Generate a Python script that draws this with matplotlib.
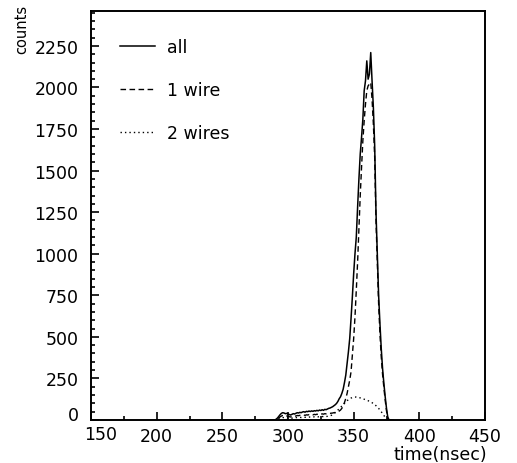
import numpy as np
import matplotlib
matplotlib.use("Agg")
import matplotlib.pyplot as plt
from matplotlib.ticker import MultipleLocator, FuncFormatter

# time axis (ns), 1 ns bins
time_ns = list(range(286, 381))

counts_all = [
    0, 0, 0, 0, 0, 5, 12, 22, 32, 40,            # 286-295
    44, 42, 38, 40, 36, 33, 30, 34, 38, 36,      # 296-305
    40, 44, 42, 46, 44, 48, 50, 47, 52, 50,      # 306-315
    54, 51, 55, 52, 56, 54, 58, 55, 60, 57,      # 316-325
    62, 58, 64, 62, 66, 70, 72, 76, 80, 86,      # 326-335
    92, 100, 112, 128, 140, 160, 185, 225, 270, 340,   # 336-345
    410, 490, 610, 740, 880, 1000, 1100, 1280, 1450, 1600,  # 346-355
    1700, 1810, 1980, 2040, 2160, 2050, 2080, 2210, 2040, 1880,  # 356-365
    1650, 1250, 1000, 750, 580, 430, 310, 220, 140, 70,  # 366-375
    15, 0, 0, 0, 0,                              # 376-380
]

counts_1wire = [
    0, 0, 0, 0, 0, 3, 7, 13, 19, 24,
    27, 26, 23, 24, 22, 20, 18, 21, 23, 22,
    24, 27, 26, 28, 27, 29, 30, 28, 31, 30,
    32, 31, 33, 31, 34, 32, 35, 33, 36, 34,
    37, 35, 38, 37, 39, 40, 40, 41, 42, 44,
    45, 47, 50, 54, 60, 70, 85, 105, 130, 160,
    200, 240, 290, 390, 490, 620, 780, 950, 1150, 1350,
    1520, 1680, 1800, 1900, 1980, 2010, 2020, 2030, 1930, 1780,
    1580, 1200, 950, 700, 520, 380, 275, 195, 120, 55,
    12, 0, 0, 0, 0,
]

counts_2wires = [
    0, 0, 0, 0, 0, 2, 4, 7, 10, 13,
    15, 14, 13, 14, 12, 11, 10, 11, 13, 12,
    14, 15, 14, 16, 15, 16, 17, 16, 18, 17,
    18, 17, 19, 18, 19, 18, 20, 19, 21, 20,
    21, 20, 22, 21, 22, 24, 26, 28, 32, 38,
    45, 52, 60, 68, 76, 84, 92, 100, 108, 116,
    122, 128, 132, 135, 137, 138, 138, 137, 135, 133,
    131, 128, 125, 122, 119, 116, 112, 108, 104, 99,
    93, 86, 78, 70, 60, 50, 38, 27, 17, 8,
    2, 0, 0, 0, 0,
]

labels = ["all", "1 wire", "2 wires"]

fig = plt.figure(figsize=(5.17, 4.64), dpi=100)
ax = fig.add_axes([91/517, 43/464, 394/517, 409/464])

ax.plot(time_ns, counts_all, color="black", lw=1.1, label=labels[0])
ax.plot(time_ns, counts_1wire, color="black", lw=1.0, dashes=(4, 2.5), label=labels[1])
ax.plot(time_ns, counts_2wires, color="black", lw=1.0, dashes=(1, 2.2), label=labels[2])

ax.set_xlim(150, 450)
ax.set_ylim(0, 2460)

ax.xaxis.set_major_locator(MultipleLocator(50))
ax.xaxis.set_minor_locator(MultipleLocator(25))
ax.yaxis.set_major_locator(MultipleLocator(250))
ax.yaxis.set_minor_locator(MultipleLocator(50))

# the first labels (150 on x, 0 on y) are drawn shifted, as in the original
ax.xaxis.set_major_formatter(FuncFormatter(lambda v, p: "" if abs(v - 150) < 1e-6 else f"{v:.0f}"))
ax.yaxis.set_major_formatter(FuncFormatter(lambda v, p: "" if abs(v) < 1e-6 else f"{v:.0f}"))

ax.tick_params(axis="both", which="both", direction="in", width=1.2, labelsize=12.5, colors="black")
ax.tick_params(axis="both", which="major", length=6)
ax.tick_params(axis="both", which="minor", length=3)
ax.tick_params(axis="x", which="major", pad=5)
ax.tick_params(axis="y", which="major", pad=9)

for s in ax.spines.values():
    s.set_linewidth(1.4)
    s.set_color("black")

ax.text(101/517, 1 - 435/464, "150", transform=fig.transFigure, ha="center", va="center", fontsize=12.5)
ax.text(79/517, 1 - 416/464, "0", transform=fig.transFigure, ha="right", va="center", fontsize=12.5)

leg = ax.legend(loc="upper left", bbox_to_anchor=(0.074, 0.935), frameon=False,
                fontsize=12.5, handlelength=2.0, handletextpad=0.7,
                labelspacing=1.45, borderpad=0, borderaxespad=0)

fig.text(22/517, 1 - 5/464, "counts", rotation=90, ha="center", va="top", fontsize=10.5)
fig.text(487/517, 1 - 455/464, "time(nsec)", ha="right", va="center", fontsize=12.5)

fig.savefig("out.png", dpi=100)
